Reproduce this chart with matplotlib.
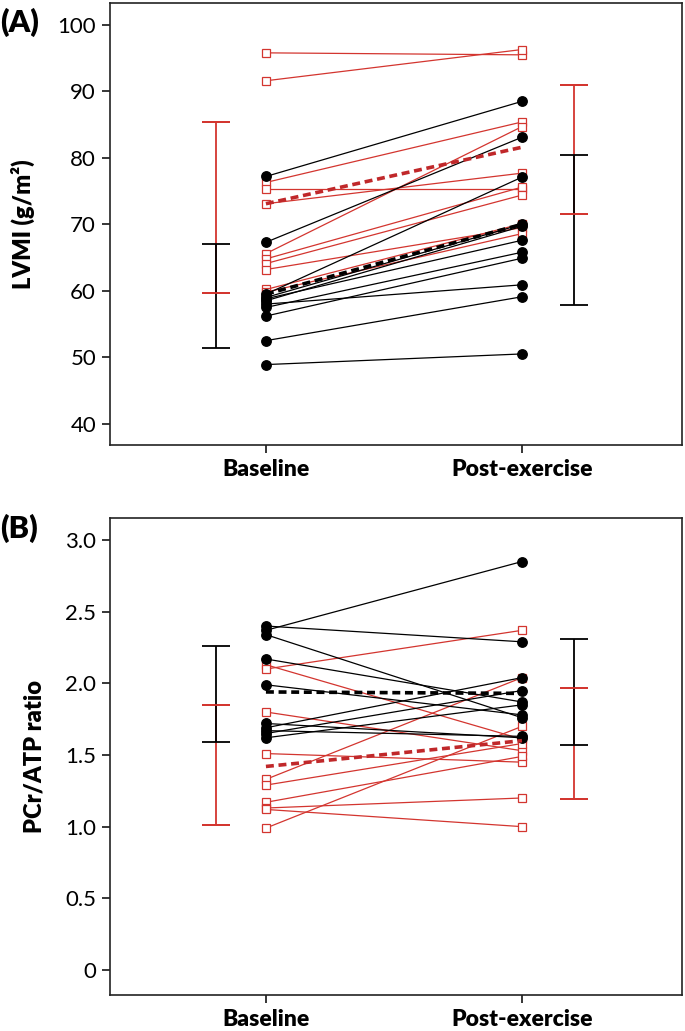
import matplotlib
matplotlib.use('Agg')
import matplotlib.pyplot as plt
import numpy as np

RED = '#d3352f'
DARKRED = '#c0282a'

# category positions
groups = ['Baseline', 'Post-exercise']

# panel A: LVMI (g/m2)
lvmi_black_base = [77.2, 67.3, 59.5, 59.0, 58.5, 58.8, 57.5, 56.2, 58.0, 52.5, 48.9]
lvmi_black_post = [88.5, 83.1, 77.1, 70.0, 69.7, 67.6, 65.8, 64.9, 60.9, 59.1, 50.5]
lvmi_red_base = [95.8, 91.6, 76.3, 75.3, 73.1, 65.6, 64.8, 64.1, 63.2, 60.2, 59.8]
lvmi_red_post = [95.5, 96.3, 85.4, 75.3, 77.7, 84.7, 75.6, 74.4, 69.5, 70.1, 68.6]
lvmi_black_mean = [59.5, 70.0]
lvmi_red_mean = [73.1, 81.6]
# error bar ranges (low, high) at baseline / post
lvmi_black_bar = [(51.4, 67.1), (57.8, 80.5)]
lvmi_red_bar = [(59.7, 85.4), (71.6, 91.0)]

# panel B: PCr/ATP ratio
pcr_black_base = [2.40, 2.37, 2.34, 2.17, 1.99, 1.72, 1.69, 1.67, 1.65, 1.62]
pcr_black_post = [2.29, 2.85, 1.76, 1.87, 1.78, 1.62, 2.04, 1.63, 1.95, 1.85]
pcr_red_base = [2.13, 2.10, 1.80, 1.51, 1.33, 1.29, 1.17, 1.13, 1.12, 0.99]
pcr_red_post = [1.61, 2.37, 1.53, 1.45, 2.04, 1.58, 1.49, 1.20, 1.00, 1.70]
pcr_black_mean = [1.94, 1.93]
pcr_red_mean = [1.42, 1.60]
pcr_black_bar = [(1.59, 2.26), (1.57, 2.31)]
pcr_red_bar = [(1.01, 1.85), (1.19, 1.97)]

W, H = 685, 1031
fig = plt.figure(figsize=(W / 100, H / 100), dpi=100)
axA = fig.add_axes([110 / W, 1 - 445 / H, 572 / W, 442 / H])
axB = fig.add_axes([110 / W, 1 - 995 / H, 572 / W, 477 / H])

font = ['Lato', 'DejaVu Sans']


def draw_bar(ax, x, lo, hi, color):
    ax.vlines(x, lo, hi, color=color, lw=1.3, zorder=2)
    ax.hlines([lo, hi], x - 0.053, x + 0.053, color=color, lw=1.3, zorder=2)


def panel(ax, bb, bp, rb, rp, bm, rm, bbar, rbar):
    x = [0, 1]
    for b, p in zip(rb, rp):
        ax.plot(x, [b, p], color=RED, lw=0.9, marker='s', ms=6,
                mfc='white', mec=RED, mew=0.9, zorder=3)
    for b, p in zip(bb, bp):
        ax.plot(x, [b, p], color='black', lw=0.9, marker='o', ms=6.8,
                mfc='black', mec='black', zorder=4)
    ax.plot(x, rm, color=DARKRED, lw=2.6, ls=(0, (2.2, 1.3)), zorder=5)
    ax.plot(x, bm, color='black', lw=2.6, ls=(0, (2.2, 1.3)), zorder=5)
    xb = [-0.195, 1.203]
    for i in range(2):
        draw_bar(ax, xb[i], rbar[i][0], rbar[i][1], RED)
        draw_bar(ax, xb[i], bbar[i][0], bbar[i][1], 'black')
        # keep red caps visible over black
        ax.hlines(rbar[i], xb[i] - 0.053, xb[i] + 0.053, color=RED, lw=1.3, zorder=3)
    ax.set_xlim(-0.609, 1.625)
    ax.set_xticks(x)
    ax.set_xticklabels(groups, fontsize=16.5, fontweight='heavy', family=font)
    for s in ax.spines.values():
        s.set_linewidth(1.2)
        s.set_color('#222222')
    ax.tick_params(axis='y', direction='out', length=6, width=1.1, pad=4)
    ax.tick_params(axis='x', direction='out', length=6, width=1.1, pad=4)


panel(axA, lvmi_black_base, lvmi_black_post, lvmi_red_base, lvmi_red_post,
      lvmi_black_mean, lvmi_red_mean, lvmi_black_bar, lvmi_red_bar)
axA.set_ylim(36.8, 103.3)
axA.set_yticks([40, 50, 60, 70, 80, 90, 100])
axA.set_yticklabels(['40', '50', '60', '70', '80', '90', '100'], family=font, fontsize=16)
axA.set_ylabel('LVMI (g/m\u00b2)', fontsize=17, fontweight='heavy', family=font, labelpad=16)

panel(axB, pcr_black_base, pcr_black_post, pcr_red_base, pcr_red_post,
      pcr_black_mean, pcr_red_mean, pcr_black_bar, pcr_red_bar)
axB.set_ylim(-0.175, 3.154)
axB.set_yticks([0, 0.5, 1.0, 1.5, 2.0, 2.5, 3.0])
axB.set_yticklabels(['0', '0.5', '1.0', '1.5', '2.0', '2.5', '3.0'], family=font, fontsize=16)
axB.set_ylabel('PCr/ATP ratio', fontsize=17, fontweight='heavy', family=font, labelpad=14)

fig.text(0 / W, 1 - 22 / H, '(A)', fontsize=22, fontweight='heavy', family=font, ha='left', va='center')
fig.text(0 / W, 1 - 528 / H, '(B)', fontsize=22, fontweight='heavy', family=font, ha='left', va='center')

fig.savefig('out.png', dpi=100)
